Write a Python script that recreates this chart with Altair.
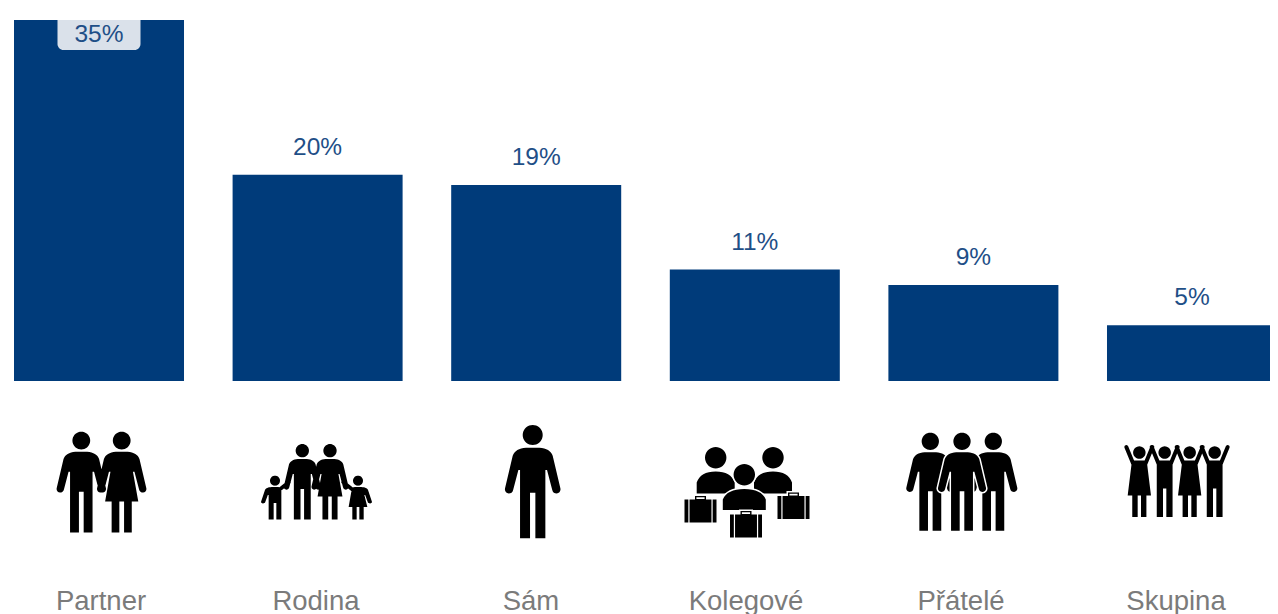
import math
import altair as alt
import pandas as pd

# ---- data ----
categories = ["Partner", "Rodina", "Sám", "Kolegové", "Přátelé", "Skupina"]
bar_values = [35, 20, 19, 10.8, 9.3, 5.4]
value_labels = ["35%", "20%", "19%", "11%", "9%", "5%"]
badge_category = ["Partner"]
badge_top = [35]
badge_bottom = [32.1]

BAR = "#003b7a"
LABEL = "#1f4f87"
BADGE = "#dae1ea"
GREY = "#7b7b7b"
FONT = "Liberation Sans"
ICON_MID_Y = 482  # row of pictograms on the page
BOX = 100         # half width of a symbol box, px


# ---- pictogram glyphs (built as outlines, px relative to the symbol centre) ----
def quad(p0, c, p1, n=8):
    return [((1 - t) ** 2 * p0[0] + 2 * (1 - t) * t * c[0] + t * t * p1[0],
             (1 - t) ** 2 * p0[1] + 2 * (1 - t) * t * c[1] + t * t * p1[1])
            for t in [i / n for i in range(1, n + 1)]]


def arc(c, r, a0, a1, n=10):
    return [(c[0] + r * math.cos(math.radians(a0 + (a1 - a0) * i / n)),
             c[1] + r * math.sin(math.radians(a0 + (a1 - a0) * i / n)))
            for i in range(n + 1)]


def poly(points):
    return "M" + "L".join(f"{x / BOX:.4f},{y / BOX:.4f}" for x, y in points) + "Z"


def circle(cx, cy, r):
    return poly(arc((cx, cy), r, 0, 350, 35))


def half(dress, arm):
    pts = [(0, 68), (20, 68)]
    if arm:
        pts += quad((20, 68), (52, 70), (60, 92))
        pts += [(83, 190)]
        pts += arc((71, 193), 12.5, 0, 170, 8)
        pts += [(43, 135), (38, 135)]
    else:
        pts += quad((20, 68), (38, 70), (38, 90))
    if dress:
        pts += [(56, 236), (34, 236), (34, 340), (8, 340), (8, 236)]
    else:
        pts += [(38, 340), (8, 340), (8, 203)]
    return pts


def person(cx, top, h, dress=False, left_arm=True, right_arm=True, head=None, xs=1.0):
    u = h / 340
    radius = head if head is not None else 30 * u
    neck = 2.27 * radius
    right = half(dress, right_arm)
    left = [(-x, y) for x, y in half(dress, left_arm)][::-1]
    pts = right + left
    body = poly([(cx + x * u * xs, top + neck + (y - 68) * (h - neck) / 272) for x, y in pts])
    return circle(cx, top + radius, radius) + body


def capsule(p, q, w):
    a = math.degrees(math.atan2(q[1] - p[1], q[0] - p[0]))
    return poly(arc(p, w / 2, a + 90, a + 270, 6) + arc(q, w / 2, a - 90, a + 90, 6))


def bust(cx, head_y, r, top, bottom, w):
    side = top + (bottom - top) * 0.5
    pts = [(cx - w, bottom), (cx - w, side)]
    pts += quad((cx - w, side), (cx - w * 0.8, top), (cx, top))
    pts += quad((cx, top), (cx + w * 0.8, top), (cx + w, side))
    pts += [(cx + w, bottom)]
    return circle(cx, head_y, r) + poly(pts)


def case(x, y, w=32, h=23):
    outer = [(x, y), (x + w, y), (x + w, y + h), (x, y + h)]
    sl = w * 0.12
    slit1 = [(x + sl, y), (x + sl, y + h), (x + sl + 1.2, y + h), (x + sl + 1.2, y)]
    slit2 = [(x + w - sl - 1.2, y), (x + w - sl - 1.2, y + h), (x + w - sl, y + h), (x + w - sl, y)]
    hx, hw = x + w / 2 - 5.5, 11
    hand = [(hx, y - 3.6), (hx + hw, y - 3.6), (hx + hw, y + 0.2), (hx, y + 0.2)]
    hole = [(hx + 1.4, y - 2.2), (hx + 1.4, y - 0.4), (hx + hw - 1.4, y - 0.4), (hx + hw - 1.4, y - 2.2)]
    return poly(outer) + poly(slit1) + poly(slit2) + poly(hand) + poly(hole)


def r(page_y):
    return page_y - ICON_MID_Y


rodina = (
    person(-13.7, r(444), 75.5) + person(14, r(444), 75.5, dress=True)
    + person(-41, r(475.7), 43.7, right_arm=False, head=5, xs=1.3)
    + person(42, r(475.7), 43.7, dress=True, left_arm=False, head=5, xs=1.3)
    + capsule((-27, 0), (-37, 8), 3.6) + capsule((27, 0), (37, 8), 3.6)
)

arms_up = ""
skupina_people = ""
for i, zx in enumerate([838, 914, 989, 1064]):
    cx = 860 + zx / 3 - 1176
    skupina_people += person(cx, r(446.3), 70.7, dress=(i % 2 == 0), left_arm=False, right_arm=False)
    for sign in (-1, 1):
        arms_up += capsule((cx + sign * 6, r(464)), (cx + sign * 13, r(447)), 4)

glyphs = {
    "partner": person(-19.7, r(431.7), 100.7) + person(20.7, r(431.7), 100.7, dress=True),
    "rodina": rodina,
    "sam": person(1.7, r(425), 113.3),
    "kolegove_back": bust(-30.3, r(457.7), 10.7, r(471.5), r(493.5), 19)
    + bust(27, r(457.7), 10.7, r(471.5), r(493.5), 19),
    "kolegove_front": bust(-1.7, r(474.7), 10.7, r(489), r(510), 21.5),
    "kolegove_cases": case(-61.5, r(499.5)) + case(-16, r(514.5)) + case(31.5, r(496)),
    "pratele_back": person(-30.7, r(432.7), 98) + person(32.3, r(432.7), 98),
    "pratele_front": person(1, r(432.7), 98),
    "skupina": skupina_people + arms_up,
}
glyph_keys = list(glyphs)
glyph_paths = [glyphs[k] for k in glyph_keys]

back_pieces = pd.DataFrame({
    "cat": ["Partner", "Rodina", "Sám", "Kolegové", "Přátelé", "Skupina"],
    "glyph": ["partner", "rodina", "sam", "kolegove_back", "pratele_back", "skupina"],
})
front_pieces = pd.DataFrame({
    "cat": ["Kolegové", "Přátelé"],
    "glyph": ["kolegove_front", "pratele_front"],
})
case_pieces = pd.DataFrame({"cat": ["Kolegové"], "glyph": ["kolegove_cases"]})

df = pd.DataFrame({"cat": categories, "value": bar_values, "label": value_labels})
badge = pd.DataFrame({"cat": badge_category, "top": badge_top, "bottom": badge_bottom})

# ---- scales ----
x_bar = alt.X("cat:N", axis=None, sort=categories,
              scale=alt.Scale(type="band", domain=categories, range=[6, 1269],
                              paddingInner=0.2223, paddingOuter=0))
x_row = alt.X("cat:N", axis=None, sort=categories,
              scale=alt.Scale(type="point", domain=categories, range=[93, 1168], padding=0))
y_val = alt.Y("value:Q", axis=None, scale=alt.Scale(domain=[0, 35], range=[373, 12], nice=False))
y_top = alt.Y("top:Q", axis=None, scale=alt.Scale(domain=[0, 35], range=[373, 12], nice=False))
shape = alt.Shape("glyph:N", legend=None, scale=alt.Scale(domain=glyph_keys, range=glyph_paths))

# ---- layers ----
bars = alt.Chart(df).mark_bar(color=BAR).encode(x=x_bar, y=y_val)
badge_mark = alt.Chart(badge).mark_bar(
    color=BADGE, size=83, cornerRadiusBottomLeft=6, cornerRadiusBottomRight=6
).encode(x=x_bar, y=y_top, y2="bottom:Q")

text_style = dict(font=FONT, fontSize=24.5, color=LABEL, baseline="middle", align="center")
labels_above = alt.Chart(df).transform_filter("datum.value < 35").mark_text(
    dy=-27, **text_style).encode(x=x_bar, y=y_val, text="label:N")
label_inside = alt.Chart(df).transform_filter("datum.value >= 35").mark_text(
    dy=15, **text_style).encode(x=x_bar, y=y_val, text="label:N")


def icon_layer(table, halo=False):
    stroke = dict(stroke="#ffffff", strokeWidth=3) if halo else dict(strokeWidth=0)
    return alt.Chart(table).mark_point(
        filled=True, size=(2 * BOX) ** 2, fill="#000000", opacity=1, **stroke
    ).encode(x=x_row, y=alt.value(ICON_MID_Y - 8), shape=shape)


names = alt.Chart(df).mark_text(
    font=FONT, fontSize=27.5, color=GREY, baseline="alphabetic", align="center"
).encode(x=x_row, y=alt.value(602), text="cat:N")

chart = (
    alt.layer(
        bars, badge_mark, labels_above, label_inside,
        icon_layer(back_pieces),
        icon_layer(front_pieces, halo=True), icon_layer(front_pieces),
        icon_layer(case_pieces, halo=True), icon_layer(case_pieces),
        names,
    )
    .resolve_scale(x="independent")
    .properties(width=1262, height=606, padding=0,
                autosize=alt.AutoSizeParams(type="none"), background="#ffffff")
    .configure_view(stroke=None)
)

chart.save("out.html", embed_options={"renderer": "svg", "actions": False})
